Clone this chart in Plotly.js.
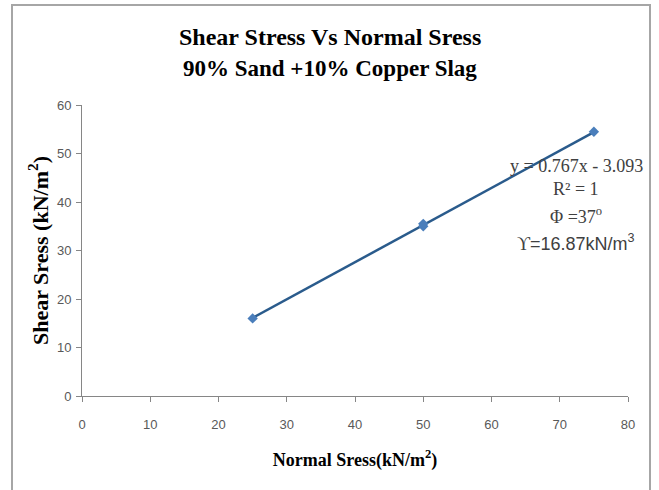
<!DOCTYPE html>
<html>
<head>
<meta charset="utf-8">
<script src="https://cdn.plot.ly/plotly-3.0.1.min.js"></script>
<style>
  html, body { margin: 0; padding: 0; background: #fff; }
  #wrap { position: relative; width: 659px; height: 490px; overflow: hidden; }
  #frame { position: absolute; left: 11px; top: 4px; width: 640px; height: 520px; border: 2px solid #a6a6a6; box-sizing: border-box; }
  #chart { position: absolute; left: 0; top: 0; width: 659px; height: 490px; }
</style>
</head>
<body>
<div id="wrap"><div id="frame"></div><div id="chart"></div></div>
<script>
const normalStress = [25, 50, 50, 75];
const shearStress = [16.0, 35.0, 35.5, 54.5];
const trendX = [25, 75];
const trendY = [16.1, 54.4];
const xTicks = [0, 10, 20, 30, 40, 50, 60, 70, 80];
const yTicks = [0, 10, 20, 30, 40, 50, 60];
const titleLines = ['<b>Shear Stress Vs Normal Sress</b>', '<b>90% Sand +10% Copper Slag</b>'];
const xTitle = '<b>Normal Sress(kN/m<sup>2</sup>)</b>';
const yTitle = '<b>Shear Sress (kN/m<sup>2</sup>)</b>';
const eqLines = ['y = 0.767x - 3.093', 'R² = 1', 'Φ =37<sup>o</sup>', 'ϒ<span style="font-family:Liberation Sans">=16.87kN/m<sup>3</sup></span>'];

const serif = 'Liberation Serif';
const sans = 'Liberation Sans Narrow, Liberation Sans, Arial, sans-serif';

const traces = [
  { x: trendX, y: trendY, mode: 'lines', type: 'scatter',
    line: { color: '#2a5b8c', width: 2.5 }, hoverinfo: 'skip', showlegend: false },
  { x: normalStress, y: shearStress, mode: 'markers', type: 'scatter',
    marker: { symbol: 'diamond', size: 8, color: '#4a7ebb' }, showlegend: false }
];

const eqY = [0.792, 0.712, 0.62, 0.528];
const annotations = eqLines.map((t, i) => ({
  text: t, xref: 'paper', yref: 'paper', x: 0.905, y: eqY[i],
  xanchor: 'center', yanchor: 'middle', showarrow: false,
  font: { family: serif, size: 18, color: '#404040' }
}));
const titleY = [1.232, 1.127];
const titleSize = [24, 23];
titleLines.forEach((t, i) => annotations.push({
  text: t, xref: 'paper', yref: 'paper', x: 0.4533, y: titleY[i],
  xanchor: 'center', yanchor: 'middle', showarrow: false,
  font: { family: serif, size: titleSize[i], color: '#000' }
}));

const layout = {
  width: 659, height: 490,
  margin: { l: 82, r: 31, t: 105, b: 94 },
  paper_bgcolor: 'rgba(0,0,0,0)', plot_bgcolor: 'rgba(0,0,0,0)',
  xaxis: {
    range: [0, 80], tickvals: xTicks, ticktext: xTicks.map(String),
    showgrid: false, zeroline: false, showline: true, linecolor: '#868686', linewidth: 1,
    ticks: 'outside', ticklen: 5, tickcolor: '#868686', ticklabelstandoff: 11,
    tickfont: { family: sans, size: 13, color: '#595959' },
    title: { text: xTitle, standoff: 22, font: { family: serif, size: 18, color: '#000' } }
  },
  yaxis: {
    range: [0, 60], tickvals: yTicks, ticktext: yTicks.map(String),
    showgrid: false, zeroline: false, showline: true, linecolor: '#868686', linewidth: 1,
    ticks: 'outside', ticklen: 5, tickcolor: '#868686', ticklabelstandoff: 2,
    tickfont: { family: sans, size: 13, color: '#595959' },
    title: { text: yTitle, standoff: 2, font: { family: serif, size: 22, color: '#000' } }
  },
  annotations: annotations
};

Plotly.newPlot('chart', traces, layout, { displayModeBar: false, staticPlot: true });
</script>
</body>
</html>
